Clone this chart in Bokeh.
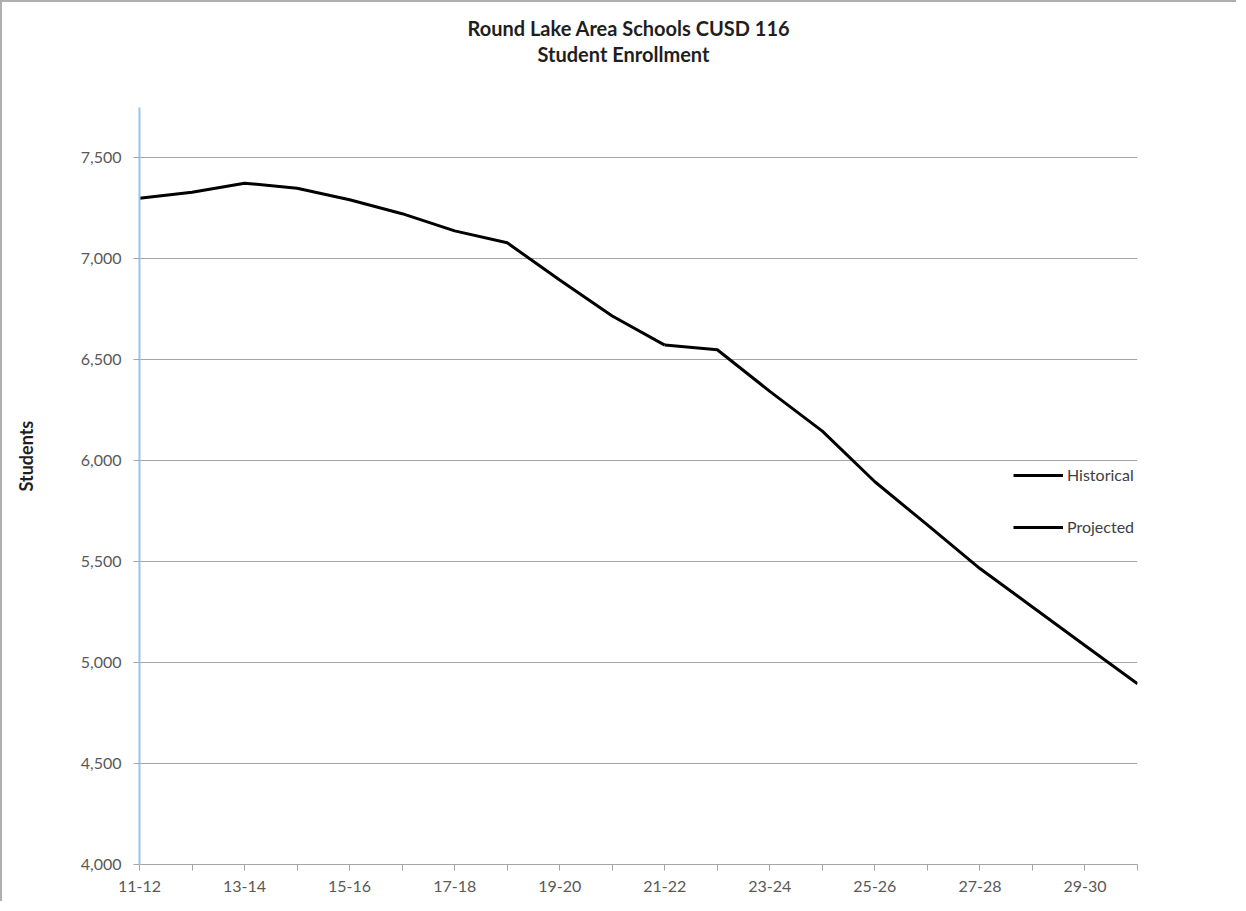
from bokeh.plotting import figure
from bokeh.models import (FixedTicker, NumeralTickFormatter, Range1d, Legend,
                          LegendItem, Title)
from bokeh.embed import file_html
from bokeh.resources import INLINE

# ---------------- data ----------------
years = ["11-12", "12-13", "13-14", "14-15", "15-16", "16-17", "17-18",
         "18-19", "19-20", "20-21", "21-22", "22-23", "23-24", "24-25",
         "25-26", "26-27", "27-28", "28-29", "29-30", "30-31"]
historical_years = years[:11]
historical = [7300, 7330, 7375, 7350, 7293, 7224, 7139, 7080, 6895, 6717, 6573]
projected_years = years[10:]
projected = [6573, 6550, 6344, 6147, 5896, 5682, 5466, 5276, 5085, 4895]
y_ticks = [4000, 4500, 5000, 5500, 6000, 6500, 7000, 7500]
title_lines = ["Round Lake Area Schools CUSD 116", "Student Enrollment"]
y_label = "Students"
series_names = ["Historical", "Projected"]

FONT = "Lato"
W, H = 1236, 901

p = figure(width=W, height=H, output_backend="svg", toolbar_location=None,
           x_range=Range1d(0, len(years) - 1), y_range=Range1d(4000, 7750),
           min_border_left=139, min_border_top=107,
           min_border_right=W - 1137, min_border_bottom=H - 864)
p.title.text = ""
p.outline_line_color = None
p.background_fill_color = "white"
p.border_fill_alpha = 0
p.styles = {"box-shadow": "inset 2px 2px 0 0 #AFAFAF", "background": "white"}

hx = [years.index(y) for y in historical_years]
px = [years.index(y) for y in projected_years]
r_hist = p.line(hx, historical, line_color="black", line_width=3)
r_proj = p.line(px, projected, line_color="black", line_width=3)

# x axis
even = list(range(0, len(years), 2))
odd = list(range(1, len(years), 2))
p.xaxis.ticker = FixedTicker(ticks=even, minor_ticks=odd)
p.xaxis.major_label_overrides = {i: years[i] for i in even}
p.xaxis.axis_line_color = "#A6A6A6"
p.xaxis.major_tick_line_color = "#A6A6A6"
p.xaxis.minor_tick_line_color = "#A6A6A6"
p.xaxis.major_tick_in = 0
p.xaxis.major_tick_out = 6
p.xaxis.minor_tick_in = 0
p.xaxis.minor_tick_out = 6
p.xaxis.major_label_standoff = 10
p.xaxis.major_label_text_font = FONT
p.xaxis.major_label_text_font_size = "16px"
p.xaxis.major_label_text_color = "#595959"
p.xgrid.grid_line_color = None

# y axis
p.yaxis.ticker = FixedTicker(ticks=y_ticks)
p.yaxis.formatter = NumeralTickFormatter(format="0,0")
p.yaxis.axis_line_color = "#9DC3E6"
p.yaxis.axis_line_width = 2
p.yaxis.major_tick_line_color = "#A6A6A6"
p.yaxis.major_tick_in = 0
p.yaxis.major_tick_out = 6
p.yaxis.minor_tick_line_color = None
p.yaxis.major_label_standoff = 12
p.yaxis.major_label_text_font = FONT
p.yaxis.major_label_text_font_size = "16px"
p.yaxis.major_label_text_color = "#595959"
p.ygrid.ticker = FixedTicker(ticks=y_ticks[1:])
p.ygrid.grid_line_color = "#A6A6A6"
p.ygrid.grid_line_width = 1

# titles (spacer first, then inner line, then outer line)
spacer = Title(text=" ", standoff=39, text_font_size="1px")
t_inner = Title(text=title_lines[1], align="left", offset=398, standoff=0,
                text_font=FONT, text_font_style="bold", text_font_size="20px",
                text_color="#1F1F1F")
t_outer = Title(text=title_lines[0], align="left", offset=328, standoff=0,
                text_font=FONT, text_font_style="bold", text_font_size="20px",
                text_color="#1F1F1F")
p.add_layout(spacer, "above")
p.add_layout(t_inner, "above")
p.add_layout(t_outer, "above")

# y-axis title: spacer then the label
y_spacer = Title(text=" ", standoff=38, text_font_size="1px")
t_y = Title(text=y_label, align="left", offset=373, standoff=0,
            text_font=FONT, text_font_style="bold", text_font_size="18px",
            text_color="#1F1F1F")
p.add_layout(y_spacer, "left")
p.add_layout(t_y, "left")

# legend
legend = Legend(items=[LegendItem(label=series_names[0], renderers=[r_hist]),
                       LegendItem(label=series_names[1], renderers=[r_proj])],
                location=(874, 328), orientation="vertical",
                glyph_width=50, glyph_height=18, label_height=18,
                label_standoff=4, spacing=33, padding=0, margin=0,
                border_line_alpha=0, background_fill_alpha=0,
                label_text_font=FONT, label_text_font_size="16px",
                label_text_color="#404040")
p.add_layout(legend, "center")

open("out.html", "w").write(file_html(p, INLINE))
